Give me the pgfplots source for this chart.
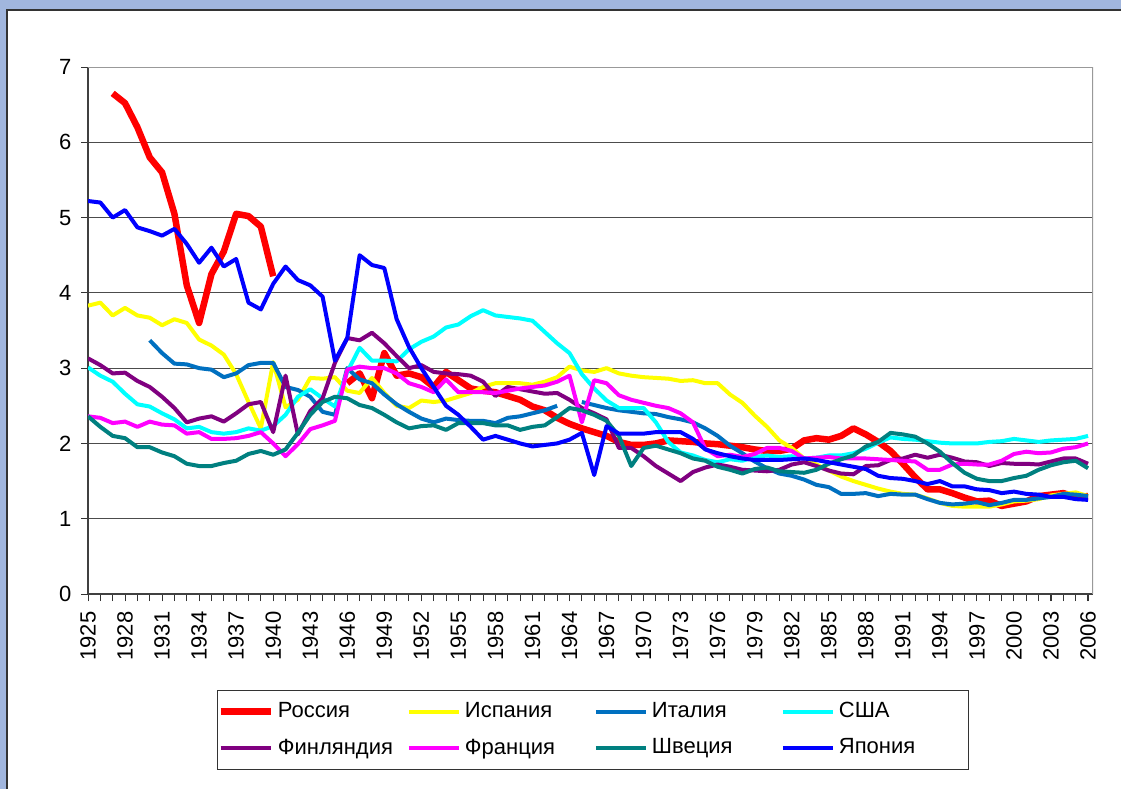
\documentclass[border=0pt]{standalone}
\usepackage{fontspec}
\setmainfont{Liberation Sans}
\usepackage{pgfplots}
\pgfplotsset{compat=1.18}

\definecolor{frameblue}{RGB}{161,182,222}
\definecolor{ruc}{RGB}{255,0,0}
\definecolor{esc}{RGB}{255,255,0}
\definecolor{itc}{RGB}{0,112,192}
\definecolor{usc}{RGB}{0,255,255}
\definecolor{fic}{RGB}{128,0,128}
\definecolor{frc}{RGB}{255,0,255}
\definecolor{sec}{RGB}{0,128,128}
\definecolor{jpc}{RGB}{0,0,255}
\newcommand{\legtext}[1]{\makebox[62.5pt][l]{#1}}

\begin{document}
\begin{tikzpicture}
\useasboundingbox (0,0) rectangle (560.5pt,-394.5pt);
\fill[frameblue] (0,0) rectangle (560.5pt,-394.5pt);
\fill[white] (3.5pt,-5pt) rectangle (560.5pt,-394.5pt);
\draw[black!80, line width=0.6pt] (3.5pt,-394.5pt) -- (3.5pt,-5pt) -- (560.5pt,-5pt);
\begin{axis}[
    at={(44pt,-33.5pt)}, anchor=north west,
    scale only axis, width=502.5pt, height=263.5pt,
    xmin=1925, xmax=2006.4, ymin=0, ymax=7,
    xtick={1925,1928,...,2006},
    minor xtick={1925,...,2006},
    ytick={0,...,7},
    axis lines=left,
    axis line style={-, black!75, line width=0.6pt},
    tick align=outside,
    major tick length=3.5pt, minor tick length=3.5pt,
    tick style={black!80, line width=0.5pt},
    ymajorgrids,
    major grid style={black!70, line width=0.5pt},
    /pgf/number format/assume math mode=true,
    tick label style={font=\fontsize{11}{13}\selectfont},
    x tick label style={/pgf/number format/1000 sep=, rotate=90, anchor=east},
    xticklabel shift=1.8pt,
    yticklabel shift=1.3pt,
    unbounded coords=jump,
    every axis plot/.append style={line width=2pt, line join=round},
    legend image code/.code={\draw[#1] (0pt,0pt) -- (25pt,0pt);},
    legend style={at={(0.1284,-0.1822)}, anchor=north west,
        draw=black!80, fill=white, font=\fontsize{11}{13}\selectfont,
        legend columns=4, inner xsep=0pt, inner ysep=4pt, row sep=5pt,
        /tikz/every odd column/.append style={column sep=0pt},
        /tikz/every even column/.append style={column sep=0pt}},
]
\addplot[ruc, line width=3.25pt] coordinates {
 (1927,6.65) (1928,6.52) (1929,6.2) (1930,5.8) (1931,5.6) (1932,5.05) (1933,4.1)
 (1934,3.6) (1935,4.25) (1936,4.55) (1937,5.05) (1938,5.02) (1939,4.88) (1940,4.22)
 (1941,nan)
 (1946,2.8) (1947,2.93) (1948,2.6) (1949,3.2) (1950,2.9) (1951,2.93) (1952,2.88)
 (1953,2.75) (1954,2.95) (1955,2.84) (1956,2.73) (1957,2.7) (1958,2.68) (1959,2.63)
 (1960,2.58) (1961,2.49) (1962,2.44) (1963,2.34) (1964,2.26) (1965,2.2) (1966,2.15)
 (1967,2.1) (1968,2.02) (1969,1.98) (1970,1.98) (1971,2.0) (1972,2.04) (1973,2.03)
 (1974,2.02) (1975,2.0) (1976,1.99) (1977,1.97) (1978,1.95) (1979,1.92) (1980,1.9)
 (1981,1.9) (1982,1.93) (1983,2.04) (1984,2.07) (1985,2.05) (1986,2.1) (1987,2.2)
 (1988,2.12) (1989,2.02) (1990,1.9) (1991,1.73) (1992,1.55) (1993,1.39) (1994,1.39)
 (1995,1.34) (1996,1.28) (1997,1.23) (1998,1.24) (1999,1.17) (2000,1.2) (2001,1.23)
 (2002,1.3) (2003,1.32) (2004,1.34) (2005,1.29) (2006,1.3)
};
\addlegendentry{\legtext{Россия}}
\addplot[esc] coordinates {
 (1925,3.83) (1926,3.87) (1927,3.7) (1928,3.8) (1929,3.7) (1930,3.67) (1931,3.57)
 (1932,3.65) (1933,3.6) (1934,3.38) (1935,3.3) (1936,3.18) (1937,2.92) (1938,2.55)
 (1939,2.2) (1940,3.08) (1941,2.48) (1942,2.58) (1943,2.87) (1944,2.86) (1945,2.88)
 (1946,2.7) (1947,2.67) (1948,2.87) (1949,2.67) (1950,2.5) (1951,2.47) (1952,2.57)
 (1953,2.55) (1954,2.57) (1955,2.62) (1956,2.67) (1957,2.75) (1958,2.8) (1959,2.8)
 (1960,2.8) (1961,2.78) (1962,2.82) (1963,2.88) (1964,3.02) (1965,2.97) (1966,2.95)
 (1967,3.0) (1968,2.93) (1969,2.9) (1970,2.88) (1971,2.87) (1972,2.86) (1973,2.83)
 (1974,2.84) (1975,2.8) (1976,2.8) (1977,2.65) (1978,2.54) (1979,2.37) (1980,2.22)
 (1981,2.04) (1982,1.94) (1983,1.8) (1984,1.72) (1985,1.64) (1986,1.56) (1987,1.5)
 (1988,1.45) (1989,1.4) (1990,1.36) (1991,1.33) (1992,1.32) (1993,1.27) (1994,1.21)
 (1995,1.17) (1996,1.16) (1997,1.16) (1998,1.16) (1999,1.19) (2000,1.23) (2001,1.24)
 (2002,1.26) (2003,1.31) (2004,1.33) (2005,1.35) (2006,1.3)
};
\addlegendentry{\legtext{Испания}}
\addplot[itc] coordinates {
 (1930,3.37) (1931,3.2) (1932,3.06) (1933,3.05) (1934,3.0) (1935,2.98) (1936,2.88)
 (1937,2.93) (1938,3.04) (1939,3.07) (1940,3.07) (1941,2.75) (1942,2.71) (1943,2.62)
 (1944,2.42) (1945,2.38) (1946,3.0) (1947,2.85) (1948,2.8) (1949,2.65) (1950,2.52)
 (1951,2.42) (1952,2.33) (1953,2.28) (1954,2.33) (1955,2.31) (1956,2.3) (1957,2.3)
 (1958,2.27) (1959,2.34) (1960,2.36) (1961,2.4) (1962,2.44) (1963,2.5)
 (1964,nan)
 (1965,2.55) (1966,2.51) (1967,2.47) (1968,2.44) (1969,2.42) (1970,2.4) (1971,2.39)
 (1972,2.35) (1973,2.32) (1974,2.28) (1975,2.2) (1976,2.1) (1977,1.97) (1978,1.87)
 (1979,1.76) (1980,1.67) (1981,1.6) (1982,1.57) (1983,1.52) (1984,1.45) (1985,1.42)
 (1986,1.33) (1987,1.33) (1988,1.34) (1989,1.3) (1990,1.33) (1991,1.32) (1992,1.32)
 (1993,1.26) (1994,1.21) (1995,1.19) (1996,1.2) (1997,1.22) (1998,1.18) (1999,1.21)
 (2000,1.25) (2001,1.25) (2002,1.27) (2003,1.29) (2004,1.33) (2005,1.32) (2006,1.3)
};
\addlegendentry{\legtext{Италия}}
\addplot[usc] coordinates {
 (1925,3.01) (1926,2.9) (1927,2.82) (1928,2.66) (1929,2.52) (1930,2.49) (1931,2.4)
 (1932,2.32) (1933,2.2) (1934,2.22) (1935,2.15) (1936,2.13) (1937,2.15) (1938,2.2)
 (1939,2.17) (1940,2.23) (1941,2.38) (1942,2.62) (1943,2.72) (1944,2.6) (1945,2.49)
 (1946,2.95) (1947,3.27) (1948,3.1) (1949,3.1) (1950,3.09) (1951,3.25) (1952,3.35)
 (1953,3.42) (1954,3.54) (1955,3.58) (1956,3.69) (1957,3.77) (1958,3.7) (1959,3.68)
 (1960,3.66) (1961,3.63) (1962,3.48) (1963,3.33) (1964,3.2) (1965,2.92) (1966,2.73)
 (1967,2.57) (1968,2.47) (1969,2.47) (1970,2.47) (1971,2.28) (1972,2.02) (1973,1.88)
 (1974,1.84) (1975,1.78) (1976,1.75) (1977,1.79) (1978,1.77) (1979,1.82) (1980,1.84)
 (1981,1.82) (1982,1.83) (1983,1.8) (1984,1.81) (1985,1.84) (1986,1.84) (1987,1.87)
 (1988,1.93) (1989,2.01) (1990,2.08) (1991,2.06) (1992,2.05) (1993,2.03) (1994,2.01)
 (1995,2.0) (1996,2.0) (1997,2.0) (1998,2.02) (1999,2.03) (2000,2.06) (2001,2.04)
 (2002,2.02) (2003,2.04) (2004,2.05) (2005,2.06) (2006,2.1)
};
\addlegendentry{\legtext{США}}
\addplot[fic] coordinates {
 (1925,3.13) (1926,3.04) (1927,2.93) (1928,2.94) (1929,2.83) (1930,2.75) (1931,2.62)
 (1932,2.47) (1933,2.28) (1934,2.33) (1935,2.36) (1936,2.29) (1937,2.4) (1938,2.52)
 (1939,2.55) (1940,2.15) (1941,2.9) (1942,2.12) (1943,2.43) (1944,2.6) (1945,3.07)
 (1946,3.4) (1947,3.37) (1948,3.47) (1949,3.33) (1950,3.16) (1951,3.0) (1952,3.04)
 (1953,2.95) (1954,2.93) (1955,2.92) (1956,2.9) (1957,2.82) (1958,2.63) (1959,2.75)
 (1960,2.72) (1961,2.69) (1962,2.66) (1963,2.67) (1964,2.58) (1965,2.47) (1966,2.4)
 (1967,2.32) (1968,1.94) (1969,1.94) (1970,1.83) (1971,1.7) (1972,1.6) (1973,1.5)
 (1974,1.62) (1975,1.68) (1976,1.72) (1977,1.69) (1978,1.65) (1979,1.64) (1980,1.63)
 (1981,1.65) (1982,1.72) (1983,1.75) (1984,1.7) (1985,1.64) (1986,1.6) (1987,1.59)
 (1988,1.7) (1989,1.71) (1990,1.78) (1991,1.8) (1992,1.85) (1993,1.81) (1994,1.85)
 (1995,1.81) (1996,1.76) (1997,1.75) (1998,1.7) (1999,1.74) (2000,1.73) (2001,1.73)
 (2002,1.72) (2003,1.76) (2004,1.8) (2005,1.8) (2006,1.73)
};
\addlegendentry{\legtext{Финляндия}}
\addplot[frc] coordinates {
 (1925,2.36) (1926,2.34) (1927,2.27) (1928,2.29) (1929,2.22) (1930,2.29) (1931,2.25)
 (1932,2.24) (1933,2.13) (1934,2.15) (1935,2.06) (1936,2.06) (1937,2.07) (1938,2.1)
 (1939,2.15) (1940,2.0) (1941,1.83) (1942,1.99) (1943,2.19) (1944,2.24) (1945,2.3)
 (1946,2.98) (1947,3.02) (1948,3.0) (1949,3.0) (1950,2.93) (1951,2.8) (1952,2.75)
 (1953,2.68) (1954,2.85) (1955,2.68) (1956,2.68) (1957,2.68) (1958,2.67) (1959,2.7)
 (1960,2.73) (1961,2.75) (1962,2.77) (1963,2.82) (1964,2.9) (1965,2.28) (1966,2.84)
 (1967,2.8) (1968,2.64) (1969,2.58) (1970,2.54) (1971,2.5) (1972,2.47) (1973,2.4)
 (1974,2.28) (1975,1.93) (1976,1.83) (1977,1.85) (1978,1.82) (1979,1.86) (1980,1.94)
 (1981,1.94) (1982,1.9) (1983,1.8) (1984,1.81) (1985,1.82) (1986,1.8) (1987,1.8)
 (1988,1.8) (1989,1.79) (1990,1.78) (1991,1.77) (1992,1.76) (1993,1.65) (1994,1.65)
 (1995,1.72) (1996,1.73) (1997,1.72) (1998,1.72) (1999,1.77) (2000,1.86) (2001,1.89)
 (2002,1.87) (2003,1.88) (2004,1.93) (2005,1.95) (2006,2.0)
};
\addlegendentry{\legtext{Франция}}
\addplot[sec] coordinates {
 (1925,2.36) (1926,2.22) (1927,2.1) (1928,2.07) (1929,1.95) (1930,1.95) (1931,1.88)
 (1932,1.83) (1933,1.73) (1934,1.7) (1935,1.7) (1936,1.74) (1937,1.77) (1938,1.86)
 (1939,1.9) (1940,1.85) (1941,1.92) (1942,2.14) (1943,2.38) (1944,2.55) (1945,2.62)
 (1946,2.6) (1947,2.51) (1948,2.47) (1949,2.38) (1950,2.28) (1951,2.2) (1952,2.23)
 (1953,2.24) (1954,2.18) (1955,2.27) (1956,2.27) (1957,2.27) (1958,2.24) (1959,2.24)
 (1960,2.18) (1961,2.22) (1962,2.24) (1963,2.35) (1964,2.47) (1965,2.44) (1966,2.38)
 (1967,2.3) (1968,2.1) (1969,1.7) (1970,1.94) (1971,1.97) (1972,1.92) (1973,1.87)
 (1974,1.8) (1975,1.77) (1976,1.69) (1977,1.65) (1978,1.6) (1979,1.66) (1980,1.68)
 (1981,1.63) (1982,1.62) (1983,1.61) (1984,1.65) (1985,1.73) (1986,1.79) (1987,1.84)
 (1988,1.96) (1989,2.02) (1990,2.14) (1991,2.12) (1992,2.09) (1993,2.0) (1994,1.89)
 (1995,1.74) (1996,1.61) (1997,1.53) (1998,1.5) (1999,1.5) (2000,1.54) (2001,1.57)
 (2002,1.65) (2003,1.71) (2004,1.75) (2005,1.77) (2006,1.67)
};
\addlegendentry{\legtext{Швеция}}
\addplot[jpc] coordinates {
 (1925,5.22) (1926,5.2) (1927,5.0) (1928,5.1) (1929,4.87) (1930,4.82) (1931,4.76)
 (1932,4.85) (1933,4.65) (1934,4.4) (1935,4.6) (1936,4.35) (1937,4.45) (1938,3.87)
 (1939,3.78) (1940,4.12) (1941,4.35) (1942,4.17) (1943,4.1) (1944,3.95) (1945,3.1)
 (1946,3.4) (1947,4.5) (1948,4.37) (1949,4.33) (1950,3.65) (1951,3.28) (1952,3.0)
 (1953,2.75) (1954,2.5) (1955,2.38) (1956,2.22) (1957,2.05) (1958,2.1) (1959,2.05)
 (1960,2.0) (1961,1.96) (1962,1.98) (1963,2.0) (1964,2.05) (1965,2.14) (1966,1.58)
 (1967,2.23) (1968,2.13) (1969,2.13) (1970,2.13) (1971,2.15) (1972,2.15) (1973,2.15)
 (1974,2.06) (1975,1.92) (1976,1.87) (1977,1.83) (1978,1.8) (1979,1.78) (1980,1.78)
 (1981,1.78) (1982,1.79) (1983,1.8) (1984,1.78) (1985,1.75) (1986,1.72) (1987,1.69)
 (1988,1.66) (1989,1.57) (1990,1.54) (1991,1.53) (1992,1.5) (1993,1.46) (1994,1.5)
 (1995,1.43) (1996,1.43) (1997,1.39) (1998,1.38) (1999,1.34) (2000,1.36) (2001,1.33)
 (2002,1.32) (2003,1.29) (2004,1.29) (2005,1.26) (2006,1.25)
};
\addlegendentry{\legtext{Япония}}
\draw[black!40, line width=1pt] (rel axis cs:0,1) -- (rel axis cs:1,1) -- (rel axis cs:1,0);
\end{axis}
\end{tikzpicture}
\end{document}
